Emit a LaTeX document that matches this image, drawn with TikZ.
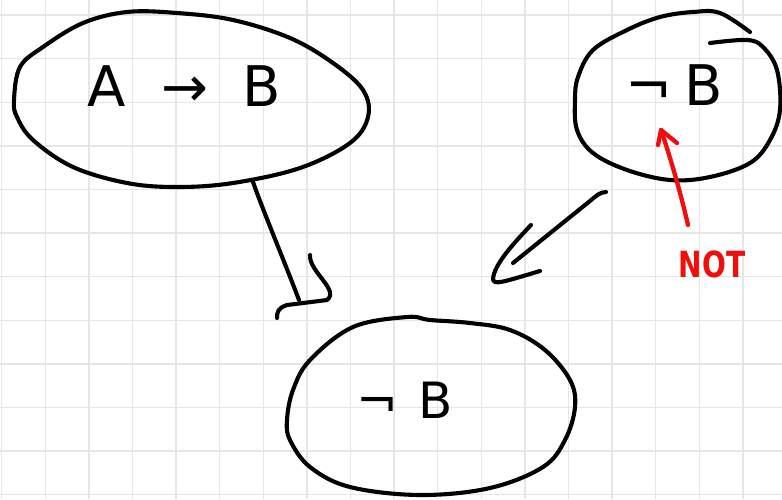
\documentclass[tikz,border=0pt]{standalone}
\usepackage{fontspec}
\setmainfont{DejaVu Sans}
\newfontfamily\narrowsans[FakeStretch=0.78]{DejaVu Sans}
\newcommand\handsize[1]{\fontsize{#1}{#1}\selectfont}
\definecolor{gridgray}{HTML}{E6E6E6}
\definecolor{inkred}{HTML}{F20D0D}
\tikzset{
  ink/.style={draw=black, line width=4.1pt, line cap=round, line join=round},
  redink/.style={ink, draw=inkred, line width=4.3pt},
  gridline/.style={draw=gridgray, line width=1.4pt},
  txt/.style={inner sep=0pt, text=black},
}
\begin{document}
\begin{tikzpicture}[x=1pt, y=-1pt]
  % paper and squared grid
  \fill[white] (0,0) rectangle (782,499);
  \useasboundingbox (0,0) rectangle (782,499);
  \foreach \k in {0,...,17} \draw[gridline] ({1.7+43.6*\k},0) -- ({1.7+43.6*\k},499);
  \foreach \k in {0,...,11} \draw[gridline] (0,{15+43.6*\k}) -- (782,{15+43.6*\k});

  % premise A -> B (left bubble)
  \draw[ink] plot[smooth cycle, tension=0.6] coordinates {
    (14,100) (20,67) (43,47) (83,23) (127,12) (177,13) (233,20) (290,38)
    (333,63) (363,90) (368,117) (350,143) (300,168) (233,183) (177,187)
    (127,183) (73,167) (33,140) (17,117)};
  \node[txt, font=\handsize{56}] (impl) at (184,86) {A\hspace{36pt}→\hspace{34pt}B};

  % premise not-B (right bubble, left open at the top)
  \draw[ink] plot[smooth, tension=0.6] coordinates {
    (710,43) (747,40) (763,47) (777,70) (780,110) (770,140) (750,163)
    (710,177) (670,180) (627,170) (593,153) (577,130) (575,100) (578,77)
    (593,50) (627,30) (660,17) (693,12) (720,13) (750,32)};
  \node[txt, font=\handsize{56}] (negB) at (674,85) {¬\hspace{12pt}B};

  % conclusion not-B (bottom bubble)
  \draw[ink] plot[smooth cycle, tension=0.6] coordinates {
    (407,317) (430,320) (470,323) (510,330) (545,350) (570,380) (575,407)
    (565,440) (543,467) (490,488) (420,495) (350,487) (310,467) (290,440)
    (287,420) (293,390) (310,360) (353,327)};
  \node[txt, font=\handsize{50}] (concl) at (405,400) {¬\hspace{20pt}B};

  % hand-drawn arrow from the left bubble down to the conclusion
  \coordinate (tailA) at (253,182);
  \coordinate (tipA) at (299,300);
  \coordinate (barbA) at (310,255);
  \coordinate (footA) at (277,318);
  \draw[ink] (tailA) .. controls (262,208) and (287,268) .. (tipA);
  \draw[ink] (barbA) .. controls (309,272) and (340,290) .. (327,300)
             -- (287,305) .. controls (278,308) and (277,312) .. (footA);

  % hand-drawn arrow from the right bubble down to the conclusion
  \coordinate (tailB) at (606,192);
  \coordinate (tipB) at (513,263);
  \coordinate (barbB) at (531,225);
  \coordinate (endB) at (540,271);
  \draw[ink] (tailB) .. controls (600,192) and (596,196) .. (590,201) -- (tipB);
  \draw[ink] (barbB) .. controls (512,245) and (494,265) .. (493,279)
             .. controls (494,285) and (500,283) .. (endB);

  % red annotation
  \node[txt, text=inkred, font=\narrowsans\bfseries\handsize{36}] (notlbl) at (712,264) {NOT};
  \coordinate (redtail) at (688,225);
  \coordinate (redtip) at (661,130);
  \draw[redink] (redtail) .. controls (680,190) and (668,150) .. (redtip);
  \draw[redink] (658,145) -- (redtip) -- (677,143);
\end{tikzpicture}
\end{document}
